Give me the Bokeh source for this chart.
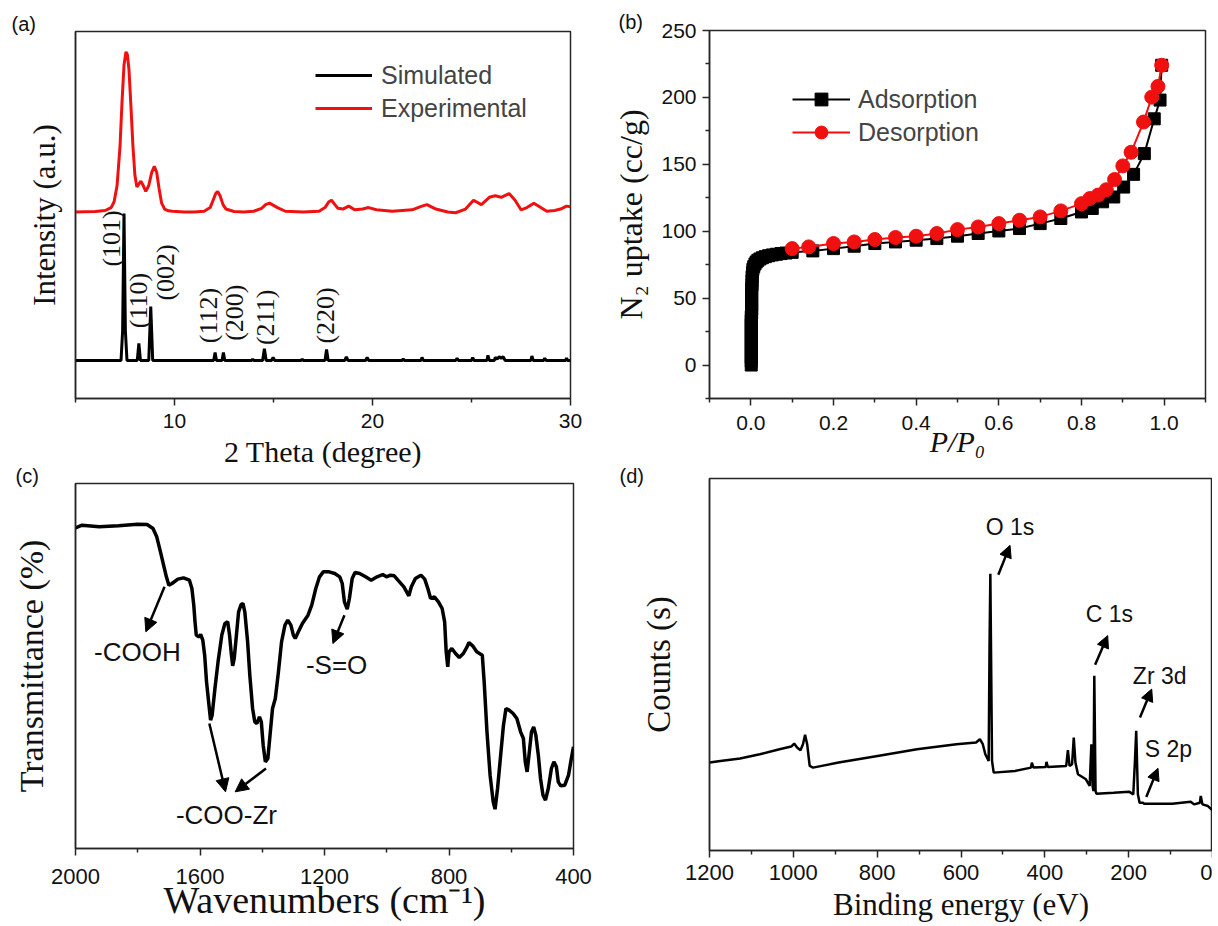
import math
from bokeh.plotting import figure
from bokeh.layouts import row, column
from bokeh.models import (Range1d, FixedTicker, Legend, LegendItem,
                          Arrow, NormalHead, NumeralTickFormatter)
from bokeh.core.properties import value
from bokeh.embed import file_html
from bokeh.resources import INLINE

SANS = "Liberation Sans"
SERIF = "Liberation Serif"
AX = "#262626"
RED = "#f01010"

# ---------------- (a) XRD ----------------
sim_x = [5.0, 7.3, 7.38, 7.45, 7.52, 7.6, 8.12, 8.2, 8.28, 8.7, 8.8, 8.9,
         11.98, 12.05, 12.12, 12.4, 12.47, 12.54, 13.9, 13.95, 14.0, 14.45,
         14.54, 14.63, 14.9, 14.98, 15.06, 16.4, 16.45, 16.5, 17.6, 17.68,
         17.76, 18.6, 18.68, 18.76, 19.65, 19.73, 19.81, 21.5, 21.55, 21.6,
         22.45, 22.5, 22.57, 24.2, 24.27, 24.34, 25.0, 25.06, 25.12, 25.78,
         25.83, 25.9, 26.15, 26.2, 26.3, 26.4, 26.5, 26.6, 26.7, 28.0, 28.05,
         28.12, 28.65, 28.7, 28.77, 29.75, 29.8, 29.85, 30.0]
sim_y = [0, 0, 20, 100, 20, 0, 0, 11.6, 0, 0, 36.7, 0,
         0, 5.4, 0, 0, 5.4, 0, 0, 1, 0, 0,
         8, 0, 0, 2, 0, 0, 1, 0, 0, 7.5,
         0, 0, 2.5, 0, 0, 2, 0, 0, 1.2, 0,
         0, 2, 0, 0, 1.5, 0, 0, 2, 0, 0,
         3.5, 0, 0, 2, 1, 2.5, 1.5, 2.5, 0, 0, 3,
         0, 0, 1.5, 0, 0, 1.5, 0, 0]

exp_x = [5.0, 6.0, 6.5, 6.8, 6.95, 7.1, 7.25, 7.35, 7.45, 7.55, 7.62, 7.7,
         7.8, 7.9, 8.0, 8.1, 8.2, 8.3, 8.42, 8.55, 8.7, 8.85, 8.98, 9.1, 9.22,
         9.35, 9.5, 9.7, 9.9, 10.5, 11.0, 11.5, 11.8, 11.95, 12.08, 12.18,
         12.3, 12.45, 12.6, 13.0, 13.5, 14.0, 14.4, 14.6, 14.8, 15.0, 15.2,
         15.6, 16.5, 17.3, 17.6, 17.8, 17.93, 18.1, 18.25, 18.5, 18.8, 19.1,
         19.5, 19.8, 20.2, 21.0, 21.5, 22.0, 22.5, 22.75, 23.2, 23.8, 24.2,
         24.7, 25.1, 25.5, 25.9, 26.2, 26.5, 26.9, 27.2, 27.5, 27.8, 28.15,
         28.5, 28.8, 29.2, 29.5, 29.8, 30.0]
exp_y = [0, 0.3, 1, 3, 7, 18, 45, 75, 100, 109, 107, 97,
         72, 45, 25, 17, 19, 21, 18, 14, 18, 27, 31, 27, 16,
         6, 2, 0.8, 0.5, 0, 0, 0.5, 3, 8, 12.5, 14,
         11, 5, 2, 0.3, 0, 0.5, 2.5, 5, 6, 4.5, 3,
         0.5, 0, 0.5, 3, 7, 8, 5, 2.5, 2, 4, 1.5,
         2, 3, 1.5, 0.5, 1, 1.5, 4, 5, 2, 0, -0.5,
         2, 8, 5, 10, 11, 10, 12.5, 8, 1.5, 3, 6,
         3, 0.5, 1, 2, 4, 3.5]
EXP_OFFSET = 101

hkl_text = ["(101)", "(110)", "(002)", "(112)", "(200)", "(211)", "(220)"]
hkl_x = [6.83, 8.2, 9.55, 11.74, 13.05, 14.58, 17.63]
hkl_y = [83, 40.8, 59.9, 30.6, 32.5, 29.3, 30.6]

# ---------------- (b) N2 isotherm ----------------
ads_x = [0.001] * 13 + [0.002] * 7 + [0.003] * 3 + [
    0.004, 0.005, 0.007, 0.01, 0.013, 0.017, 0.022, 0.028, 0.035, 0.043,
    0.052, 0.062, 0.073, 0.085, 0.1, 0.15, 0.2, 0.25, 0.3, 0.35, 0.4, 0.45,
    0.5, 0.55, 0.6, 0.65, 0.7, 0.75, 0.8, 0.826, 0.851, 0.878, 0.902, 0.926,
    0.952, 0.976, 0.99, 0.994]
ads_y = [0, 3, 6, 9, 12, 15, 18, 21, 24, 27, 30, 33, 36, 39, 42, 45, 48, 51,
         54, 57, 60, 63, 66, 69, 71.5, 73.5, 75.5, 77, 78.3, 79.3, 80.2, 81,
         81.7, 82.3, 82.8, 83.3, 83.7, 84.2, 85.3, 87, 88.8, 90.8, 92, 93.3,
         94.5, 96.3, 98.3, 100.2, 102, 105.7, 109.5, 114.4, 117, 122, 125.6,
         133, 142.5, 158, 184, 198, 224]
des_x = [0.1, 0.14, 0.2, 0.25, 0.3, 0.35, 0.4, 0.45, 0.5, 0.55, 0.6, 0.65,
         0.7, 0.75, 0.8, 0.82, 0.84, 0.86, 0.88, 0.9, 0.92, 0.95, 0.97, 0.985,
         0.994]
des_y = [87, 88.3, 90.8, 92, 93.8, 95.3, 96.3, 98.3, 101.2, 103.2, 105.7,
         108.2, 110.7, 115.2, 120.6, 124.4, 127, 131, 138.6, 148.8, 159, 181.6,
         200.2, 208.2, 224]

# ---------------- (c) FTIR ----------------
ir_x = [2000, 1979, 1924, 1862, 1801, 1770, 1751, 1739, 1727, 1717, 1708,
        1700, 1690, 1671, 1653, 1634, 1626, 1620, 1616, 1612, 1604, 1598,
        1591, 1585, 1579, 1570, 1566, 1561, 1552, 1542, 1530, 1520, 1511,
        1505, 1499, 1495, 1490, 1483, 1476, 1468, 1462, 1456, 1447, 1440,
        1431, 1424, 1417, 1409, 1403, 1397, 1390, 1382, 1375, 1367, 1358,
        1348, 1338, 1327, 1318, 1308, 1300, 1294, 1284, 1271, 1253, 1241,
        1228, 1216, 1204, 1185, 1167, 1151, 1143, 1136, 1127, 1120, 1111,
        1102, 1087, 1068, 1050, 1031, 1013, 1001, 988, 976, 964, 945, 929,
        921, 908, 890, 878, 868, 859, 847, 834, 822, 814, 809, 804, 800, 791,
        779, 767, 754, 742, 736, 724, 711, 693, 687, 678, 668, 658, 652, 644,
        634, 625, 617, 607, 594, 582, 570, 561, 555, 549, 543, 535, 528, 521,
        513, 506, 498, 490, 481, 471, 463, 455, 449, 441, 428, 416, 407, 400]
ir_y = [96.2, 97.0, 96.5, 96.8, 97.3, 97.2, 96.0, 93.5, 89.0, 85.0, 81.5,
        79.0, 79.5, 80.8, 81.2, 80.5, 78.0, 73.0, 68.0, 64.0, 63.5, 64.2,
        62.5, 58.0, 50.0, 42.0, 38.5, 40.0, 48.0, 56.0, 64.0, 67.5, 68.0,
        64.0, 58.0, 54.8, 57.0, 64.0, 71.0, 73.2, 73.5, 71.0, 62.0, 52.0,
        42.0, 38.0, 37.5, 39.5, 38.0, 31.0, 26.0, 27.0, 34.0, 42.0, 45.0,
        53.0, 62.0, 67.0, 68.5, 67.0, 64.0, 63.0, 65.0, 67.5, 70.0, 73.0,
        78.0, 81.5, 83.0, 83.0, 82.5, 81.5, 79.5, 74.0, 71.8, 75.0, 81.0,
        82.8, 82.5, 81.5, 80.5, 81.5, 82.2, 81.5, 82.0, 81.8, 80.5, 78.5, 75.8,
        78.5, 81.0, 82.0, 80.8, 78.0, 75.0, 75.5, 74.0, 72.0, 68.0, 59.0, 54.5,
        59.0, 60.0, 58.5, 57.3, 58.5, 60.5, 61.8, 60.8, 59.0, 58.0, 50.0, 35.0,
        22.0, 14.0, 11.8, 18.0, 28.0, 37.0, 42.0, 41.5, 40.5, 39.0, 35.0, 33.0,
        26.0, 23.0, 28.0, 35.0, 36.5, 34.0, 28.0, 21.0, 16.0, 14.5, 18.0, 24.0,
        26.0, 24.5, 20.0, 18.8, 19.0, 22.0, 27.0, 30.5]

ir_labels = ["-COOH", "-S=O", "-COO-Zr"]
ir_label_x = [1801, 1161, 1515]
ir_label_y = [59, 55, 10]
ir_arrow_x0 = [1714, 1570, 1388, 1136]
ir_arrow_y0 = [78.5, 37.5, 24, 70]
ir_arrow_x1 = [1774, 1518, 1487, 1173]
ir_arrow_y1 = [65, 17, 17, 61.5]

# ---------------- (d) XPS ----------------
xps_x = [1200, 1174, 1127, 1080, 1033, 1005, 998, 991, 983, 977, 972, 967,
         961, 953, 892, 799, 705, 611, 564, 555, 548, 542, 534, 532, 530, 526,
         522, 471, 433, 431, 427, 398, 396, 393, 349, 345, 341, 335, 331, 327,
         321, 302, 293, 289, 286, 284, 282, 279, 277, 236, 199, 189, 185, 182,
         178, 174, 166, 163, 96, 52, 44, 30, 28, 24, 11, 0]
xps_y = [26.3, 26.8, 27.5, 28.8, 30.3, 31.1, 32.0, 30.8, 30.0, 31.8, 34.6,
         31.8, 25.3, 24.8, 26.3, 28.3, 30.3, 31.8, 32.3, 33.3, 31.8, 28.8,
         26.8, 60.0, 82.8, 26.8, 23.3, 23.8, 24.8, 26.3, 24.8, 25.0, 26.5,
         25.0, 25.3, 30.0, 25.3, 25.8, 33.8, 26.3, 22.8, 21.3, 19.3, 31.8,
         19.3, 17.8, 52.3, 17.8, 17.0, 17.3, 17.6, 16.8, 26.8, 35.8, 16.8,
         14.3, 14.3, 14.0, 14.0, 14.6, 13.8, 14.3, 16.3, 13.8, 13.3, 12.0]

xps_labels = ["O 1s", "C 1s", "Zr 3d", "S 2p"]
xps_label_x = [483, 246, 126, 105]
xps_label_y = [96.8, 70.8, 52.3, 30.3]
xps_arrow_x0 = [511, 280, 173, 158]
xps_arrow_y0 = [82.5, 55.6, 39.8, 16]
xps_arrow_x1 = [483, 250, 145, 130]
xps_arrow_y1 = [91.3, 64.3, 48.3, 24.6]


def style(p, tick_size, title_size):
    p.outline_line_color = AX
    p.outline_line_width = 1.5
    p.xgrid.visible = False
    p.ygrid.visible = False
    p.background_fill_color = "white"
    p.border_fill_color = "white"
    for ax in [p.xaxis[0], p.yaxis[0]]:
        ax.axis_line_color = AX
        ax.axis_line_width = 1.5
        ax.major_tick_line_color = AX
        ax.major_tick_line_width = 1.5
        ax.minor_tick_line_color = AX
        ax.minor_tick_line_width = 1.5
        ax.major_tick_in = 0
        ax.major_tick_out = 7
        ax.minor_tick_in = 0
        ax.minor_tick_out = 4
        ax.major_label_text_font = SANS
        ax.major_label_text_font_size = f"{tick_size}px"
        ax.major_label_text_color = "#111111"
        ax.axis_label_text_font = SERIF
        ax.axis_label_text_font_size = f"{title_size}px"
        ax.axis_label_text_font_style = "normal"
        ax.axis_label_text_color = "#111111"


def no_ticks(ax, standoff):
    ax.ticker = FixedTicker(ticks=[])
    ax.major_tick_out = 0
    ax.minor_tick_out = 0
    ax.major_label_standoff = 0
    ax.axis_label_standoff = standoff


def letter(p, text, offset, standoff):
    p.title.text = text
    p.title.align = "left"
    p.title.offset = offset
    p.title.standoff = standoff
    p.title.text_font = SANS
    p.title.text_font_size = "20px"
    p.title.text_font_style = "normal"
    p.title.text_color = "#111111"


common = dict(output_backend="svg", toolbar_location=None)

# ---- panel a
pa = figure(frame_width=495, frame_height=367, min_border_left=75,
            min_border_right=30, min_border_top=31, min_border_bottom=82,
            x_range=Range1d(5, 30), y_range=Range1d(-25.9, 223.8),
            x_axis_label="2 Theta (degree)", y_axis_label="Intensity (a.u.)",
            **common)
style(pa, 21, 30)
pa.yaxis.axis_label_text_font_size = "31px"
pa.xaxis.ticker = FixedTicker(ticks=[10, 20, 30], minor_ticks=[5, 15, 25])
pa.xaxis.major_label_standoff = 8
pa.xaxis.axis_label_standoff = 4
no_ticks(pa.yaxis[0], 14)
r_sim = pa.line(sim_x, sim_y, line_color="black", line_width=3)
r_exp = pa.line(exp_x, [v + EXP_OFFSET for v in exp_y], line_color=RED,
                line_width=3)
pa.text(x=hkl_x, y=hkl_y, text=hkl_text, angle=math.pi / 2,
        text_font=value(SERIF), text_font_size=value("26px"),
        text_align="center", text_baseline="middle", text_color="#111111")
leg_a = Legend(items=[LegendItem(label="Simulated", renderers=[r_sim]),
                      LegendItem(label="Experimental", renderers=[r_exp])],
               location=(240, 274), glyph_width=57, glyph_height=32,
               label_height=32, label_standoff=9, spacing=1, padding=4,
               margin=0, border_line_color=None, background_fill_alpha=0,
               label_text_font=SANS, label_text_font_size="25px")
pa.add_layout(leg_a)
letter(pa, "(a)", -64, -6)

# ---- panel b
pb = figure(frame_width=496, frame_height=368, min_border_left=108,
            min_border_right=8, min_border_top=30, min_border_bottom=82,
            x_range=Range1d(-0.1, 1.1), y_range=Range1d(-25, 250),
            x_axis_label="P/P₀", y_axis_label="N₂ uptake (cc/g)", **common)
style(pb, 21, 30)
pb.yaxis.axis_label_text_font_size = "32px"
pb.xaxis.ticker = FixedTicker(ticks=[0, 0.2, 0.4, 0.6, 0.8, 1.0],
                              minor_ticks=[-0.1, 0.1, 0.3, 0.5, 0.7, 0.9, 1.1])
pb.xaxis.formatter = NumeralTickFormatter(format="0.0")
pb.yaxis.ticker = FixedTicker(ticks=[0, 50, 100, 150, 200, 250],
                              minor_ticks=[-25, 25, 75, 125, 175, 225])
pb.xaxis.axis_label_text_font_style = "italic"
pb.xaxis.major_label_standoff = 10
pb.xaxis.axis_label_standoff = -8
pb.yaxis.major_label_standoff = 6
pb.yaxis.axis_label_standoff = 9
la = pb.line(ads_x, ads_y, line_color="black", line_width=2)
sa = pb.scatter(ads_x, ads_y, marker="square", size=12, color="black")
ld = pb.line(des_x, des_y, line_color=RED, line_width=2)
sd = pb.scatter(des_x, des_y, marker="circle", size=14, color=RED)
leg_b = Legend(items=[LegendItem(label="Adsorption", renderers=[la, sa]),
                      LegendItem(label="Desorption", renderers=[ld, sd])],
               location=(83, 250), glyph_width=58, glyph_height=32,
               label_height=32, label_standoff=8, spacing=1, padding=4,
               margin=0, border_line_color=None, background_fill_alpha=0,
               label_text_font=SANS, label_text_font_size="25px")
pb.add_layout(leg_b)
letter(pb, "(b)", -91, -5)

# ---- panel c  (pulled up so that its frame top sits at 488)
pc = figure(frame_width=498, frame_height=365, min_border_left=72,
            min_border_right=30, min_border_top=30, min_border_bottom=72,
            x_range=Range1d(2000, 400), y_range=Range1d(0, 109.5),
            x_axis_label="Wavenumbers (cm⁻¹)", y_axis_label="Transmittance (%)",
            margin=(-27, 0, 0, 0), **common)
style(pc, 22, 34)
pc.border_fill_alpha = 0
pc.xaxis.axis_label_text_font_size = "38px"
pc.xaxis.ticker = FixedTicker(ticks=[2000, 1600, 1200, 800, 400],
                              minor_ticks=[1800, 1400, 1000, 600])
pc.xaxis.major_label_standoff = 13
pc.xaxis.axis_label_standoff = -8
no_ticks(pc.yaxis[0], 26)
pc.line(ir_x, ir_y, line_color="black", line_width=3.5)
pc.text(x=ir_label_x, y=ir_label_y, text=ir_labels, text_font=value(SANS),
        text_font_size=value("26px"), text_align="center",
        text_baseline="middle", text_color="#111111")
for x0, y0, x1, y1 in zip(ir_arrow_x0, ir_arrow_y0, ir_arrow_x1, ir_arrow_y1):
    pc.add_layout(Arrow(x_start=x0, y_start=y0, x_end=x1, y_end=y1,
                        line_width=2.5, line_color="black",
                        end=NormalHead(size=13, fill_color="black",
                                       line_color="black")))
letter(pc, "(c)", -60, -6)

# ---- panel d  (pulled up so that its frame top sits at 478)
pd_ = figure(frame_width=503, frame_height=372, min_border_left=109,
             min_border_right=0, min_border_top=30, min_border_bottom=74,
             x_range=Range1d(1200, 0), y_range=Range1d(0, 111.3),
             x_axis_label="Binding energy (eV)", y_axis_label="Counts (s)",
             margin=(-32, 0, 0, 0), **common)
style(pd_, 22, 31)
pd_.border_fill_alpha = 0
pd_.yaxis.axis_label_text_font_size = "33px"
pd_.xaxis.ticker = FixedTicker(ticks=[1200, 1000, 800, 600, 400, 200, 0],
                               minor_ticks=[1100, 900, 700, 500, 300, 100])
pd_.xaxis.major_label_standoff = 7
pd_.xaxis.axis_label_standoff = 4
no_ticks(pd_.yaxis[0], 33)
pd_.line(xps_x, xps_y, line_color="black", line_width=2.5)
pd_.text(x=xps_label_x, y=xps_label_y, text=xps_labels, text_font=value(SANS),
         text_font_size=value("23px"), text_align="center",
         text_baseline="middle", text_color="#111111")
for x0, y0, x1, y1 in zip(xps_arrow_x0, xps_arrow_y0, xps_arrow_x1, xps_arrow_y1):
    pd_.add_layout(Arrow(x_start=x0, y_start=y0, x_end=x1, y_end=y1,
                         line_width=2.5, line_color="black",
                         end=NormalHead(size=12, fill_color="black",
                                        line_color="black")))
letter(pd_, "(d)", -90, -16)

layout = row(column(pa, pc), column(pb, pd_))

open("out.html", "w").write(file_html(layout, INLINE))
